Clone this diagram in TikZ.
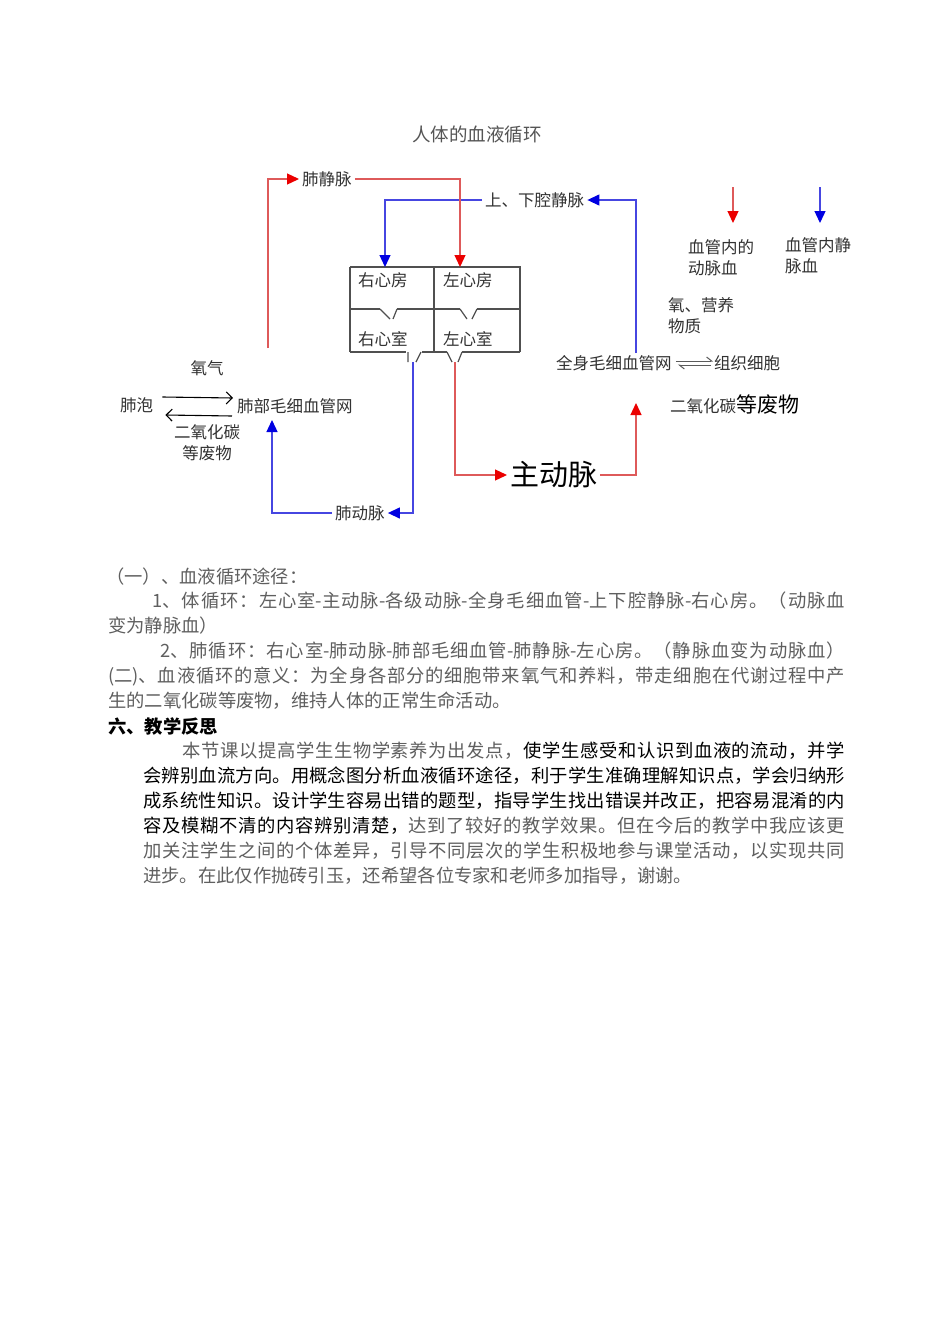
\documentclass[tikz,border=0pt]{standalone}
\usepackage{fontspec}
\usetikzlibrary{arrows.meta,calc}
\newfontfamily\cjk{Noto Sans CJK SC}
\XeTeXinterchartokenstate=1
\newXeTeXintercharclass\CJKcls
\newcount\cjkc
\cjkc="3000 \loop\ifnum\cjkc<"3040 \XeTeXcharclass\cjkc=\CJKcls \advance\cjkc by 1 \repeat
\cjkc="4E00 \loop\ifnum\cjkc<"A000 \XeTeXcharclass\cjkc=\CJKcls \advance\cjkc by 1 \repeat
\cjkc="FF00 \loop\ifnum\cjkc<"FFF0 \XeTeXcharclass\cjkc=\CJKcls \advance\cjkc by 1 \repeat
\XeTeXinterchartoks\CJKcls\CJKcls={\hskip0pt plus 1pt\relax}
\definecolor{dg}{RGB}{50,50,50}
\definecolor{tg}{RGB}{85,85,85}
\definecolor{bg}{RGB}{95,95,95}
\definecolor{hg}{RGB}{80,80,80}
\definecolor{lred}{RGB}{222,90,90}
\definecolor{hred}{RGB}{235,0,0}
\definecolor{lblue}{RGB}{70,70,225}
\definecolor{hblue}{RGB}{0,0,225}
\newcommand\jl[2]{\makebox[#1][s]{#2}}
\tikzset{
  lbl/.style={inner xsep=3pt, inner ysep=0pt, text=dg, font=\cjk\fontsize{16.5}{21}\selectfont},
  body/.style={anchor=west, inner sep=0pt, text=bg, font=\cjk\fontsize{18.3}{22}\selectfont},
  redln/.style={draw=lred, line width=1.3pt, -{Triangle[length=12pt,width=11pt,color=hred]}},
  blueln/.style={draw=lblue, line width=1.3pt, -{Triangle[length=12pt,width=11pt,color=hblue]}},
  heart/.style={draw=hg, line width=1.4pt},
  exch/.style={draw=black, line width=1.1pt, -{Straight Barb[length=6pt,width=12pt]}},
  harp/.style={draw=dg!80, line width=1pt, -{Straight Barb[left,length=5pt,width=8pt]}},
}
\begin{document}
\begin{tikzpicture}[x=1pt,y=-1pt]
\useasboundingbox[fill=white] (0,0) rectangle (950,1344);

% title
\node[lbl, text=tg, font=\cjk\fontsize{18.5}{20}\selectfont] (title) at (477,135) {人体的血液循环};

% labels
\node[lbl, anchor=west] (fjm) at (299,179) {肺静脉};
\node[lbl, anchor=west] (sxq) at (482,200) {上、下腔静脉};
\node[lbl, anchor=west] (ra) at (355,280) {右心房};
\node[lbl, anchor=west] (la) at (440,280) {左心房};
\node[lbl, anchor=west] (rv) at (355,339) {右心室};
\node[lbl, anchor=west] (lv) at (440,339) {左心室};
\node[lbl, anchor=west] (fp) at (117,405) {肺泡};
\node[lbl, anchor=west] (fbmx) at (234,406) {肺部毛细血管网};
\node[lbl] (yq) at (207,368) {氧气};
\node[lbl, align=center] (ey) at (207,443) {二氧化碳\\等废物};
\node[lbl, anchor=west] (fdm) at (332,513) {肺动脉};
\node[lbl, anchor=west, text=black, font=\cjk\fontsize{29}{32}\selectfont] (zdm) at (507,475) {主动脉};
\node[lbl, anchor=west] (qsmx) at (553,363) {全身毛细血管网};
\node[lbl, anchor=west] (zzxb) at (711,363) {组织细胞};
\node[lbl, anchor=west, align=left] (yyy) at (665,316) {氧、营养\\物质};
\node[lbl, anchor=west] (efw) at (667,405) {二氧化碳{\fontsize{21}{24}\selectfont\color{black}等废物}};
\node[lbl, anchor=west, align=left] (leg1) at (685,258) {血管内的\\动脉血};
\node[lbl, anchor=west, align=left] (leg2) at (782,256) {血管内静\\脉血};

% coordinates
\coordinate (ratop) at (385,267);
\coordinate (latop) at (460,267);
\coordinate (rvout) at (413,362);
\coordinate (lvout) at (455,362);
\coordinate (lungup) at (268,348);
\coordinate (lcin) at (272,420);
\coordinate (qtop) at (636,353);
\coordinate (aoup) at (636,403);
\coordinate (lr1) at (733,187);
\coordinate (lr2) at (733,223);
\coordinate (lb1) at (820,187);
\coordinate (lb2) at (820,223);

% heart box
\draw[heart] (350,267) -- (520,267) -- (520,352);
\draw[heart] (350,267) -- (350,352);
\draw[heart] (434,267) -- (434,352);
\draw[heart] (350,352) -- (406,352) (422,352) -- (447,352) (462,352) -- (520,352);
\draw[heart] (350,309) -- (380,309) (397,309) -- (460,309) (477,309) -- (520,309);
\draw[heart, line width=1.2pt] (380,309) -- (390,319) (397,309) -- (393,319)
  (460,309) -- (467,319) (477,309) -- (472,319);
\draw[heart, line width=1.2pt] (408,352) -- (408,362) (421,352) -- (416,362)
  (447,352) -- (452,362) (462,352) -- (458,362);

% blue connectors
\draw[blueln] (sxq.west) -| (ratop);
\draw[blueln] (qtop) |- (sxq.east);
\draw[blueln] (rvout) |- (fdm.east);
\draw[blueln] (fdm.west) -| (lcin);
% red connectors
\draw[redln] (lungup) |- (fjm.west);
\draw[redln] (fjm.east) -| (latop);
\draw[redln] (lvout) |- (zdm.west);
\draw[redln] (zdm.east) -| (aoup);

% exchange arrows
\draw[exch] ($(fp.east)+(6,-8)$) -- ($(fbmx.west)+(-1,-8)$);
\draw[exch] ($(fbmx.west)+(-2,10)$) -- ($(fp.east)+(9,10)$);
\draw[harp] ($(qsmx.east)+(1,-2)$) -- ($(zzxb.west)+(2,-2)$);
\draw[harp] ($(zzxb.west)+(0,2)$) -- ($(qsmx.east)+(3,2)$);

% legend
\draw[redln] (lr1) -- (lr2);
\draw[blueln] (lb1) -- (lb2);

% body text
\node[body] (t1) at (106,577) {（一）、血液循环途径：};
\node[body] (t2) at (152,601) {\jl{693pt}{1、体循环：左心室-主动脉-各级动脉-全身毛细血管-上下腔静脉-右心房。（动脉血}};
\node[body] (t3) at (108,626) {变为静脉血）};
\node[body] (t4) at (160,651) {\jl{685pt}{2、肺循环：右心室-肺动脉-肺部毛细血管-肺静脉-左心房。（静脉血变为动脉血）}};
\node[body] (t5) at (108,676) {\jl{737pt}{(二)、血液循环的意义：为全身各部分的细胞带来氧气和养料，带走细胞在代谢过程中产}};
\node[body] (t6) at (108,701) {生的二氧化碳等废物，维持人体的正常生命活动。};
\node[body, text=black, font=\cjk\bfseries\fontsize{18.3}{22}\selectfont] (t7) at (108,726) {六、教学反思};
\node[body] (t8) at (182,751) {\jl{663pt}{本节课以提高学生生物学素养为出发点，{\color{black}使学生感受和认识到血液的流动，并学}}};
\node[body, text=black] (t9) at (143,776) {\jl{702pt}{会辨别血流方向。用概念图分析血液循环途径，利于学生准确理解知识点，学会归纳形}};
\node[body, text=black] (t10) at (143,801) {\jl{702pt}{成系统性知识。设计学生容易出错的题型，指导学生找出错误并改正，把容易混淆的内}};
\node[body, text=black] (t11) at (143,826) {\jl{702pt}{容及模糊不清的内容辨别清楚，{\color{bg}达到了较好的教学效果。但在今后的教学中我应该更}}};
\node[body] (t12) at (143,851) {\jl{702pt}{加关注学生之间的个体差异，引导不同层次的学生积极地参与课堂活动，以实现共同}};
\node[body] (t13) at (143,876) {进步。在此仅作抛砖引玉，还希望各位专家和老师多加指导，谢谢。};
\end{tikzpicture}
\end{document}
